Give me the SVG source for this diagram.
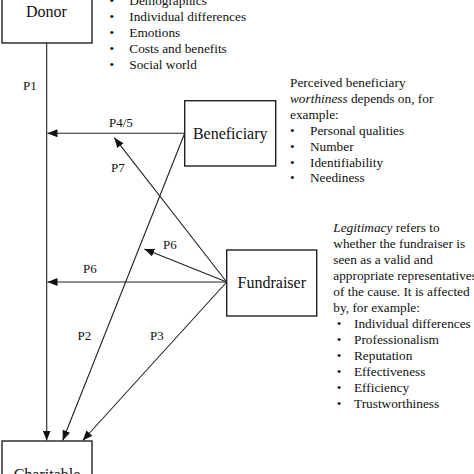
<svg xmlns="http://www.w3.org/2000/svg" width="474" height="474" viewBox="0 0 474 474">
<style>
  .box { fill: #fff; stroke: #222; stroke-width: 1.4; }
  .lbl { font-family: "Liberation Serif", "Times New Roman", serif; font-size: 16px; fill: #111; text-anchor: middle; }
  .txt { font-family: "Liberation Serif", "Times New Roman", serif; font-size: 13.3px; fill: #111; }
  .p { font-family: "Liberation Serif", "Times New Roman", serif; font-size: 13px; fill: #111; }
  .edge { stroke: #222; stroke-width: 1.1; fill: none; }
  .ah { stroke: #222; stroke-width: 1.1; fill: none; marker-end: url(#arrow); }
</style>
<defs>
  <marker id="arrow" markerUnits="userSpaceOnUse" markerWidth="11" markerHeight="9" refX="10" refY="4" orient="auto">
    <path d="M0,0 L10,4 L0,8 z" fill="#111"/>
  </marker>
</defs>
<rect width="474" height="474" fill="#fff"/>

<g id="connectors">
  <line class="ah" x1="46.7" y1="43" x2="46.7" y2="440.5"/>
  <line class="ah" x1="184.7" y1="133.3" x2="47.5" y2="133.3"/>
  <line class="ah" x1="184.7" y1="133.3" x2="62.7" y2="440.5"/>
  <line class="ah" x1="226.7" y1="282" x2="47.5" y2="282"/>
  <line class="ah" x1="226.7" y1="282" x2="144.3" y2="249"/>
  <line class="ah" x1="226.7" y1="282" x2="114.3" y2="137.7"/>
  <line class="ah" x1="226.7" y1="282" x2="82.7" y2="440.5"/>
  <text class="p" x="23" y="90">P1</text>
  <text class="p" x="109" y="127">P4/5</text>
  <text class="p" x="111" y="172">P7</text>
  <text class="p" x="163" y="249">P6</text>
  <text class="p" x="83" y="273">P6</text>
  <text class="p" x="77.5" y="339.5">P2</text>
  <text class="p" x="150" y="340">P3</text>
</g>

<g id="donor">
  <rect class="box" x="2" y="-22" width="90" height="65"/>
  <text class="lbl" x="46.5" y="16.7">Donor</text>
</g>

<g id="donor-notes">
  <text class="txt" x="109.5" y="4.8">•</text><text class="txt" x="129.3" y="4.8">Demographics</text>
  <text class="txt" x="109.5" y="20.8">•</text><text class="txt" x="129.3" y="20.8">Individual differences</text>
  <text class="txt" x="109.5" y="36.8">•</text><text class="txt" x="129.3" y="36.8">Emotions</text>
  <text class="txt" x="109.5" y="52.8">•</text><text class="txt" x="129.3" y="52.8">Costs and benefits</text>
  <text class="txt" x="109.5" y="68.8">•</text><text class="txt" x="129.3" y="68.8">Social world</text>
</g>

<g id="beneficiary">
  <rect class="box" x="184.7" y="100.7" width="91" height="65.3"/>
  <text class="lbl" x="230.2" y="139">Beneficiary</text>
</g>

<g id="beneficiary-notes">
  <text class="txt" x="290" y="87">Perceived beneficiary</text>
  <text class="txt" x="290" y="102.9"><tspan font-style="italic">worthiness</tspan> depends on, for</text>
  <text class="txt" x="290" y="118.8">example:</text>
  <text class="txt" x="290" y="134.7">•</text><text class="txt" x="310" y="134.7">Personal qualities</text>
  <text class="txt" x="290" y="150.6">•</text><text class="txt" x="310" y="150.6">Number</text>
  <text class="txt" x="290" y="166.5">•</text><text class="txt" x="310" y="166.5">Identifiability</text>
  <text class="txt" x="290" y="182.4">•</text><text class="txt" x="310" y="182.4">Neediness</text>
</g>

<g id="fundraiser">
  <rect class="box" x="226.7" y="250" width="90" height="66"/>
  <text class="lbl" x="271.8" y="288">Fundraiser</text>
</g>

<g id="fundraiser-notes">
  <text class="txt" x="333.3" y="231.7"><tspan font-style="italic">Legitimacy</tspan> refers to</text>
  <text class="txt" x="333.3" y="247.7">whether the fundraiser is</text>
  <text class="txt" x="333.3" y="263.7">seen as a valid and</text>
  <text class="txt" x="333.3" y="279.7">appropriate representatives</text>
  <text class="txt" x="333.3" y="295.7">of the cause. It is affected</text>
  <text class="txt" x="333.3" y="311.7">by, for example:</text>
  <text class="txt" x="336.7" y="327.7">•</text><text class="txt" x="354" y="327.7">Individual differences</text>
  <text class="txt" x="336.7" y="343.7">•</text><text class="txt" x="354" y="343.7">Professionalism</text>
  <text class="txt" x="336.7" y="359.7">•</text><text class="txt" x="354" y="359.7">Reputation</text>
  <text class="txt" x="336.7" y="375.7">•</text><text class="txt" x="354" y="375.7">Effectiveness</text>
  <text class="txt" x="336.7" y="391.7">•</text><text class="txt" x="354" y="391.7">Efficiency</text>
  <text class="txt" x="336.7" y="407.7">•</text><text class="txt" x="354" y="407.7">Trustworthiness</text>
</g>

<g id="charitable">
  <rect class="box" x="2" y="441" width="90" height="65"/>
  <text class="lbl" x="47" y="480">Charitable</text>
</g>
</svg>
